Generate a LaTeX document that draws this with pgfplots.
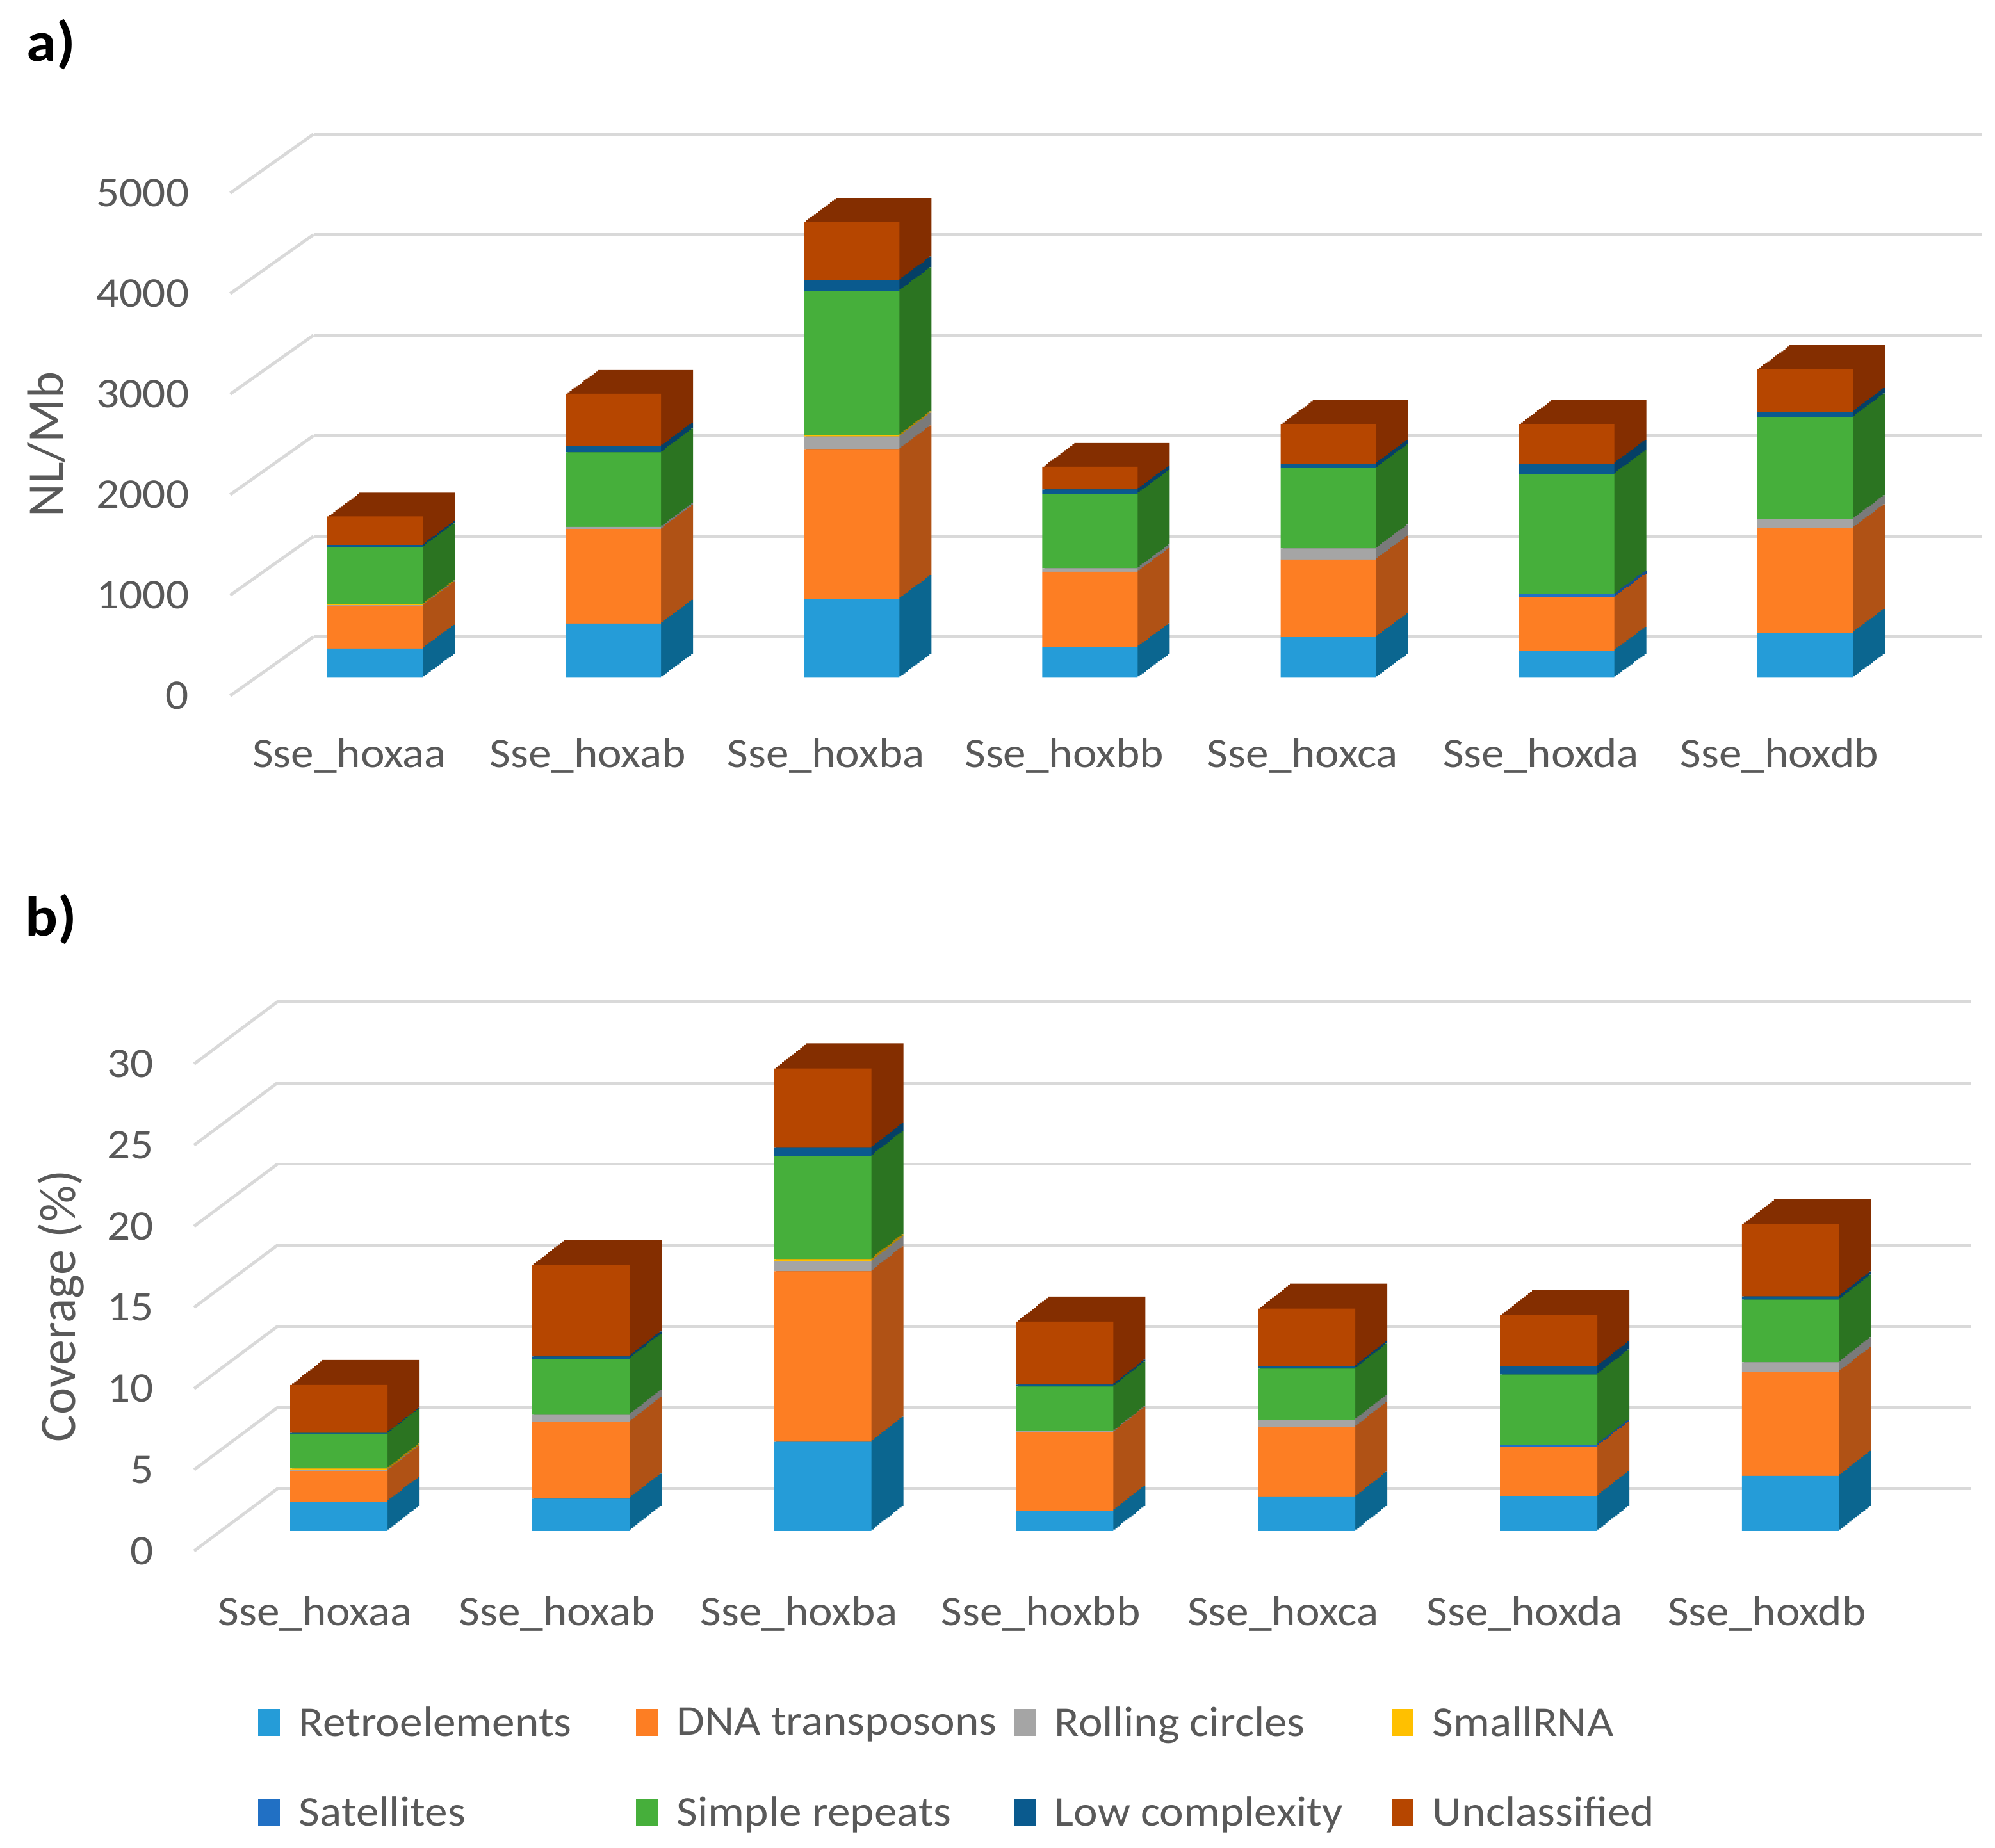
\documentclass[border=0pt]{standalone}
\usepackage{fontspec}
\setmainfont{Carlito}[FakeStretch=1.08]
\newfontfamily\titlefont{Carlito}
\usepackage{pgfplots}
\usepackage{pgfplotstable}
\pgfplotsset{compat=1.18}

\definecolor{textgray}{HTML}{595959}
\definecolor{gridc}{HTML}{D9D9D9}
\definecolor{retroF}{HTML}{259CD8}\definecolor{retroS}{HTML}{0B6690}
\definecolor{dnaF}{HTML}{FD7E23}\definecolor{dnaS}{HTML}{B05215}
\definecolor{rollF}{HTML}{A5A5A5}\definecolor{rollS}{HTML}{7A7A7A}
\definecolor{smallF}{HTML}{FFC000}\definecolor{smallS}{HTML}{B38600}
\definecolor{satF}{HTML}{2170C4}\definecolor{satS}{HTML}{174E8A}
\definecolor{simpleF}{HTML}{46AF3B}\definecolor{simpleS}{HTML}{2B7421}
\definecolor{lowF}{HTML}{0A5A8E}\definecolor{lowS}{HTML}{053F66}
\definecolor{unclF}{HTML}{B64600}\definecolor{unclS}{HTML}{842E00}

% NL/Mb
\pgfplotstableread{
x retro dna roll small sat simple low uncl
0 291 426 5 10 0 568 20 285
1 538 942 20 0 0 742 60 523
2 785 1489 126 15 0 1433 107 583
3 305 749 36 0 0 740 44 225
4 404 771 112 0 0 798 45 395
5 269 529 0 0 32 1197 103 395
6 448 1041 89 0 0 1014 54 426
}\dataA
% Coverage (%)
\pgfplotstableread{
x retro dna roll small sat simple low uncl
0 1.8 1.9 0.05 0.1 0 2.15 0.05 2.95
1 2.0 4.7 0.45 0 0 3.45 0.15 5.65
2 5.5 10.5 0.6 0.15 0 6.35 0.5 4.9
3 1.25 4.85 0.05 0 0 2.75 0.12 3.88
4 2.1 4.3 0.45 0 0 3.15 0.15 3.55
5 2.15 3.05 0 0 0.13 4.31 0.5 3.16
6 3.4 6.4 0.6 0 0 3.85 0.2 4.45
}\dataB

\pgfplotsset{
  commonA/.style={scale only axis, width=651.2pt, height=196.25pt,
    xmin=-0.5, xmax=6.5, ymin=0, ymax=5000, enlargelimits=false,
    ybar stacked, bar width=37.25pt, clip=false},
  commonB/.style={scale only axis, width=661.15pt, height=190.125pt,
    xmin=-0.5, xmax=6.5, ymin=0, ymax=30, enlargelimits=false,
    ybar stacked, bar width=38pt, clip=false},
  gridax/.style={axis line style={draw=none}, tick style={draw=none},
    xtick=\empty, yticklabels={}, ymajorgrids,
    grid style={gridc, line width=1.2pt}},
  frontax/.style={axis line style={draw=none}, tick style={draw=none},
    xtick={0,1,2,3,4,5,6},
    xticklabels={Sse\_hoxaa,Sse\_hoxab,Sse\_hoxba,Sse\_hoxbb,Sse\_hoxca,Sse\_hoxda,Sse\_hoxdb},
    scaled y ticks=false,
    /pgf/number format/assume math mode=true,
    /pgf/number format/1000 sep={},
    ticklabel style={font=\fontsize{16.5}{20}\selectfont, text=textgray},
    ylabel style={font=\titlefont\fontsize{20}{24}\selectfont, text=textgray, anchor=center}},
  sqleg/.style={legend image code/.code={\fill[##1,draw=none] (0pt,-5pt) rectangle (8.5pt,5.5pt);}},
}

\begin{document}
\begin{tikzpicture}
\path[use as bounding box] (0pt,0pt) rectangle (778.75pt,721.5pt);
\node[font=\fontsize{22}{26}\selectfont\bfseries] at (20pt,704pt) {a)};
\node[font=\fontsize{22}{26}\selectfont\bfseries] at (20pt,362.5pt) {b)};

% ---------------- panel a ----------------
\begin{axis}[commonA, gridax, at={(122.375pt,472.875pt)},
  ytick={0,1000,2000,3000,4000,5000}]
\pgfplotsinvokeforeach{0,1000,2000,3000,4000,5000}{
  \draw[gridc,line width=1.2pt] (axis cs:-0.5,#1) -- ++(-32.5pt,-23pt);}
\end{axis}

\foreach \t in {16,15,...,1}{
\begin{axis}[commonA, hide axis, at={({99.875pt+\t*0.78125pt},{456.875pt+\t*0.578125pt})}]
\addplot[fill=retroS,draw=none] table[x=x,y=retro]{\dataA};
\addplot[fill=dnaS,draw=none] table[x=x,y=dna]{\dataA};
\addplot[fill=rollS,draw=none] table[x=x,y=roll]{\dataA};
\addplot[fill=smallS,draw=none] table[x=x,y=small]{\dataA};
\addplot[fill=satS,draw=none] table[x=x,y=sat]{\dataA};
\addplot[fill=simpleS,draw=none] table[x=x,y=simple]{\dataA};
\addplot[fill=lowS,draw=none] table[x=x,y=low]{\dataA};
\addplot[fill=unclS,draw=none] table[x=x,y=uncl]{\dataA};
\end{axis}
}

\begin{axis}[commonA, frontax, at={(99.875pt,456.875pt)},
  ytick={0,1000,2000,3000,4000,5000},
  yticklabel style={anchor=east, inner sep=0pt, xshift=-25.9pt, yshift=-7pt},
  xticklabel style={anchor=base, inner sep=0pt, xshift=-10pt, yshift=-35.1pt},
  ylabel={NL/Mb},
  ylabel style={at={(axis description cs:-0.1257,0.4643)}}]
\addplot[fill=retroF,draw=none] table[x=x,y=retro]{\dataA};
\addplot[fill=dnaF,draw=none] table[x=x,y=dna]{\dataA};
\addplot[fill=rollF,draw=none] table[x=x,y=roll]{\dataA};
\addplot[fill=smallF,draw=none] table[x=x,y=small]{\dataA};
\addplot[fill=satF,draw=none] table[x=x,y=sat]{\dataA};
\addplot[fill=simpleF,draw=none] table[x=x,y=simple]{\dataA};
\addplot[fill=lowF,draw=none] table[x=x,y=low]{\dataA};
\addplot[fill=unclF,draw=none] table[x=x,y=uncl]{\dataA};
\end{axis}

% ---------------- panel b ----------------
\begin{axis}[commonB, gridax, at={(108.28pt,140.25pt)},
  ytick={0,5,10,15,20,25,30}]
\pgfplotsinvokeforeach{0,5,10,15,20,25,30}{
  \draw[gridc,line width=1.2pt] (axis cs:-0.5,#1) -- ++(-32.5pt,-24.25pt);}
\end{axis}

\foreach \t in {16,15,...,1}{
\begin{axis}[commonB, hide axis, at={({85.03pt+\t*0.78125pt},{123.75pt+\t*0.609375pt})}]
\addplot[fill=retroS,draw=none] table[x=x,y=retro]{\dataB};
\addplot[fill=dnaS,draw=none] table[x=x,y=dna]{\dataB};
\addplot[fill=rollS,draw=none] table[x=x,y=roll]{\dataB};
\addplot[fill=smallS,draw=none] table[x=x,y=small]{\dataB};
\addplot[fill=satS,draw=none] table[x=x,y=sat]{\dataB};
\addplot[fill=simpleS,draw=none] table[x=x,y=simple]{\dataB};
\addplot[fill=lowS,draw=none] table[x=x,y=low]{\dataB};
\addplot[fill=unclS,draw=none] table[x=x,y=uncl]{\dataB};
\end{axis}
}

\begin{axis}[commonB, frontax, at={(85.03pt,123.75pt)},
  ytick={0,5,10,15,20,25,30},
  yticklabel style={anchor=east, inner sep=0pt, xshift=-25pt, yshift=-7.75pt},
  xticklabel style={anchor=base, inner sep=0pt, xshift=-9.25pt, yshift=-36.95pt},
  ylabel={Coverage (\%)},
  ylabel style={at={(axis description cs:-0.0927,0.4615)}},
  legend columns=4,
  legend cell align=left,
  legend style={at={(axis description cs:0.0234,-0.36)}, anchor=north west,
    draw=none, fill=none, inner sep=0pt, row sep=22pt,
    font=\fontsize{16.5}{20}\selectfont, text=textgray,
    nodes={inner sep=0pt, text=textgray},
    /tikz/every odd column/.append style={column sep=7.5pt},
    /tikz/every even column/.append style={column sep=3.5pt}}]
\addplot[fill=retroF,draw=none,sqleg] table[x=x,y=retro]{\dataB};
\addplot[fill=dnaF,draw=none,sqleg] table[x=x,y=dna]{\dataB};
\addplot[fill=rollF,draw=none,sqleg] table[x=x,y=roll]{\dataB};
\addplot[fill=smallF,draw=none,sqleg] table[x=x,y=small]{\dataB};
\addplot[fill=satF,draw=none,sqleg] table[x=x,y=sat]{\dataB};
\addplot[fill=simpleF,draw=none,sqleg] table[x=x,y=simple]{\dataB};
\addplot[fill=lowF,draw=none,sqleg] table[x=x,y=low]{\dataB};
\addplot[fill=unclF,draw=none,sqleg] table[x=x,y=uncl]{\dataB};
\legend{\makebox[128pt][l]{Retroelements},\makebox[128pt][l]{DNA transposons},\makebox[128pt][l]{Rolling circles},\makebox[128pt][l]{SmallRNA},\makebox[128pt][l]{Satellites},\makebox[128pt][l]{Simple repeats},\makebox[128pt][l]{Low complexity},\makebox[128pt][l]{Unclassified}}
\end{axis}
\end{tikzpicture}
\end{document}
